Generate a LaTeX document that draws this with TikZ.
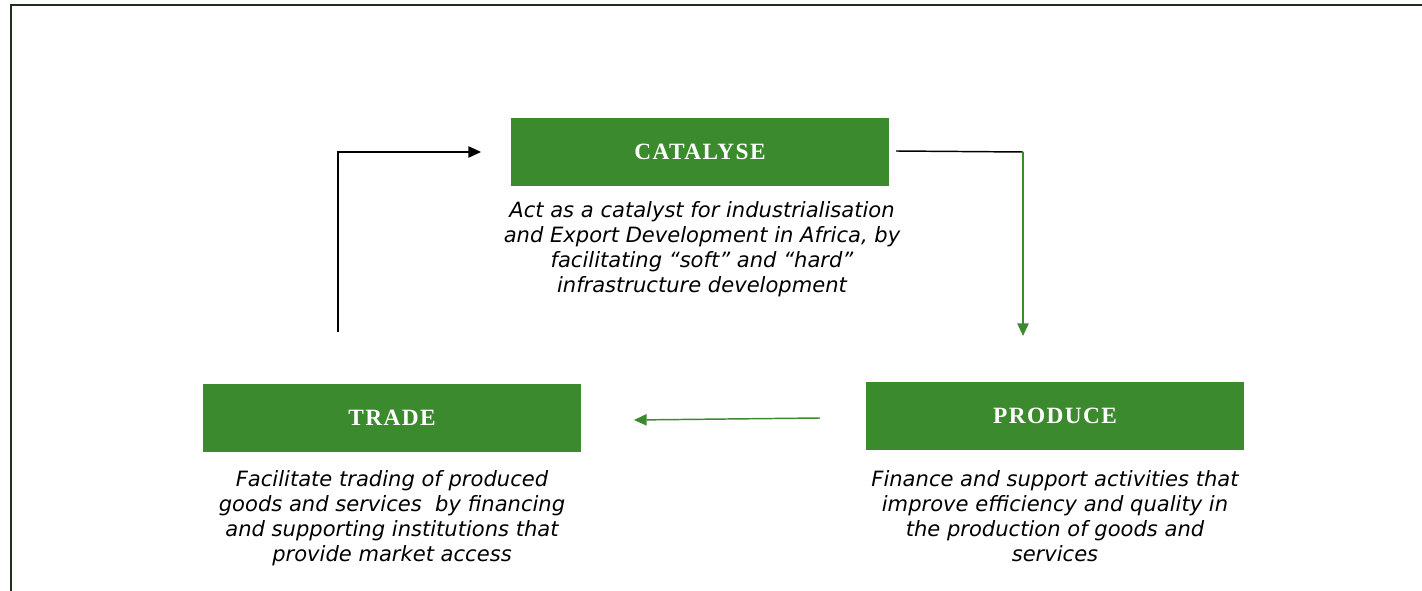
\documentclass[tikz,border=0pt]{standalone}
\usepackage{fontspec}
\setmainfont{Liberation Serif}
\newfontfamily\titlefont[LetterSpace=6]{Liberation Serif}
\newfontfamily\descfont{DejaVu Sans}
\usetikzlibrary{arrows.meta}
\definecolor{boxgreen}{HTML}{3C8A2E}
\definecolor{framegreen}{HTML}{1E2F1A}

\begin{document}
\begin{tikzpicture}[x=0.75pt,y=-0.75pt,
		phase/.style={rectangle,fill=boxgreen,text=white,minimum width=284pt,minimum height=51pt,
			font=\titlefont\fontsize{17.5}{20}\selectfont\bfseries},
		desc/.style={align=center,font=\descfont\itshape\fontsize{15.8}{18.75}\selectfont},
		tip/.style={-{Triangle[length=9.5pt,width=8.5pt]}}]
			\useasboundingbox (0,0) rectangle (1422,591);
			\draw[framegreen,line width=1.6pt] (11,591) -- (11,5) -- (1422,5);
			
			% phases
			
			\node[phase] (catalyse) at (700,152) {CATALYSE};
			\node[phase] (trade) at (392,418) {TRADE};
			\node[phase] (produce) at (1055,416) {PRODUCE};
			
			\node[desc,anchor=north] (catalyseText) at (702,197) {Act as a catalyst for industrialisation\\and Export Development in Africa, by\\facilitating “soft” and “hard”\\infrastructure development};
			\node[desc,anchor=north] (tradeText) at (392,466) {Facilitate trading of produced\\goods and services \ by financing\\and supporting institutions that\\provide market access};
			\node[desc,anchor=north] (produceText) at (1055,466) {Finance and support activities that\\improve efficiency and quality in\\the production of goods and\\services};
			
			% cycle
			
			\coordinate (c1) at (338,332);
			\coordinate (c2) at (338,152);
			\coordinate (c3) at (896,151);
			\coordinate (c4) at (1023,152);
			\coordinate (c5) at (1023,336);
			\coordinate (c6) at (820,418);
			\coordinate (c7) at (634,420);
			\draw[tip,line width=1.1pt] (c1) -- (c2) -- ([xshift=-22]catalyse.west);
			\draw[line width=1.1pt] (c3) -- (c4);
			\draw[tip,boxgreen,line width=1.1pt] (c4) -- (c5);
			\draw[tip,boxgreen,line width=1.1pt] (c6) -- (c7);
		\end{tikzpicture}
\end{document}
